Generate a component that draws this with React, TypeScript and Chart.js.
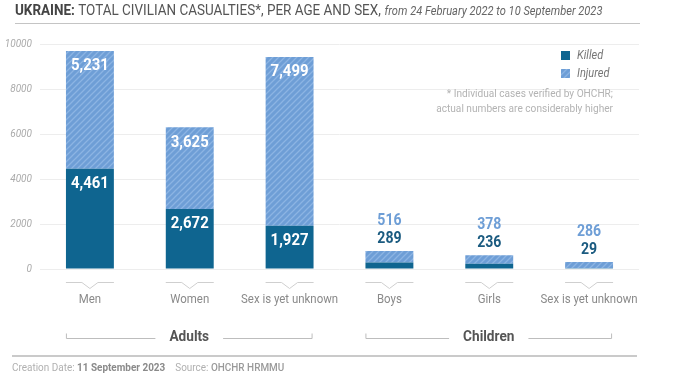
import React, { useEffect, useRef } from "react";
import { Chart, registerables } from "chart.js";

Chart.register(...registerables);

const categories = ["Men", "Women", "Sex is yet unknown", "Boys", "Girls", "Sex is yet unknown"];
const killed = [4461, 2672, 1927, 289, 236, 29];
const injured = [5231, 3625, 7499, 516, 378, 286];
const yTicks = [0, 2000, 4000, 6000, 8000, 10000];
const groupLabels = ["Adults", "Children"];
const groupStart = [0, 3];
const groupEnd = [2, 5];
const seriesNames = ["Killed", "Injured"];

const FF = "Roboto, 'Noto Sans', sans-serif";
const SX = 0.88;
const KILLED_COLOR = "#0f6590";
const INJ_BASE = "#6e9ed6";
const INJ_STRIPE = "#8cb4e3";

function makePattern(ctx: CanvasRenderingContext2D): CanvasPattern | string {
  const c = document.createElement("canvas");
  c.width = 6;
  c.height = 6;
  const p = c.getContext("2d");
  if (!p) return INJ_BASE;
  p.fillStyle = INJ_BASE;
  p.fillRect(0, 0, 6, 6);
  p.strokeStyle = INJ_STRIPE;
  p.lineWidth = 1.3;
  p.beginPath();
  p.moveTo(0, 6);
  p.lineTo(6, 0);
  p.moveTo(-1, 1);
  p.lineTo(1, -1);
  p.moveTo(5, 7);
  p.lineTo(7, 5);
  p.stroke();
  return ctx.createPattern(c, "repeat") || INJ_BASE;
}

function txt(
  ctx: CanvasRenderingContext2D,
  s: string,
  x: number,
  y: number,
  font: string,
  color: string,
  align: CanvasTextAlign = "left"
): number {
  ctx.save();
  ctx.font = font;
  ctx.fillStyle = color;
  ctx.textBaseline = "middle";
  ctx.textAlign = align;
  ctx.translate(x, y);
  ctx.scale(SX, 1);
  ctx.fillText(s, 0, 0);
  const w = ctx.measureText(s).width * SX;
  ctx.restore();
  return w;
}

function tw(ctx: CanvasRenderingContext2D, s: string, font: string): number {
  ctx.save();
  ctx.font = font;
  const w = ctx.measureText(s).width * SX;
  ctx.restore();
  return w;
}

const fmt = (v: number) => v.toLocaleString("en-US");

const decorPlugin = {
  id: "decor",
  afterDraw(chart: any) {
    const ctx: CanvasRenderingContext2D = chart.ctx;
    const xs = chart.scales.x;
    const pattern = chart.$pattern;

    // Title
    let x = 15;
    const ty = 11;
    x += txt(ctx, "UKRAINE:", x, ty, `bold 15.3px ${FF}`, "#444");
    x += txt(ctx, " TOTAL CIVILIAN CASUALTIES*, PER AGE AND SEX,", x, ty, `15.3px ${FF}`, "#555");
    txt(ctx, " from 24 February 2022 to 10 September 2023", x + 1, ty + 1, `italic 12.6px ${FF}`, "#666");

    ctx.save();
    ctx.strokeStyle = "#c4c4c4";
    ctx.lineWidth = 1.2;
    ctx.beginPath();
    ctx.moveTo(15, 23.5);
    ctx.lineTo(640, 23.5);
    ctx.stroke();
    ctx.restore();

    // Legend
    ctx.save();
    ctx.fillStyle = KILLED_COLOR;
    ctx.fillRect(561, 51, 9, 9);
    ctx.fillStyle = pattern;
    ctx.fillRect(561, 69, 9, 9);
    ctx.restore();
    txt(ctx, seriesNames[0], 577, 55.5, `italic 12.5px ${FF}`, "#777");
    txt(ctx, seriesNames[1], 577, 73.5, `italic 12.5px ${FF}`, "#777");

    // Note
    txt(ctx, "* Individual cases verified by OHCHR;", 613, 94, `11.5px ${FF}`, "#b3b3b3", "right");
    txt(ctx, "actual numbers are considerably higher", 613, 109, `11.5px ${FF}`, "#b3b3b3", "right");

    // Category notches and labels
    ctx.save();
    ctx.strokeStyle = "#cfcfcf";
    ctx.lineWidth = 1;
    categories.forEach((c, i) => {
      const cx = xs.getPixelForValue(i);
      ctx.beginPath();
      ctx.moveTo(cx - 24, 282.5);
      ctx.lineTo(cx - 8, 282.5);
      ctx.lineTo(cx, 288.5);
      ctx.lineTo(cx + 8, 282.5);
      ctx.lineTo(cx + 24, 282.5);
      ctx.stroke();
    });
    ctx.restore();
    categories.forEach((c, i) => {
      const cx = xs.getPixelForValue(i);
      txt(ctx, c, cx, 300, `13px ${FF}`, "#8a8a8a", "center");
    });

    // Group brackets
    groupLabels.forEach((g, gi) => {
      const x0 = xs.getPixelForValue(groupStart[gi]) - 24;
      const x1 = xs.getPixelForValue(groupEnd[gi]) + 23;
      const cx = (x0 + x1) / 2;
      const font = `bold 15.5px ${FF}`;
      const w = tw(ctx, g, font);
      const by = 338.5;
      ctx.save();
      ctx.strokeStyle = "#bdbdbd";
      ctx.lineWidth = 1;
      ctx.beginPath();
      ctx.moveTo(x0 + 0.5, by - 5);
      ctx.lineTo(x0 + 0.5, by);
      ctx.lineTo(cx - w / 2 - 14, by);
      ctx.moveTo(cx + w / 2 + 14, by);
      ctx.lineTo(x1 - 0.5, by);
      ctx.lineTo(x1 - 0.5, by - 5);
      ctx.stroke();
      ctx.restore();
      txt(ctx, g, cx, 337, font, "#555", "center");
    });

    // Bottom separator
    ctx.save();
    ctx.strokeStyle = "#b8b8b8";
    ctx.lineWidth = 1.5;
    ctx.beginPath();
    ctx.moveTo(12, 356);
    ctx.lineTo(637, 356);
    ctx.stroke();
    ctx.restore();

    // Footer
    let fx = 12;
    const fy = 368;
    const ff = `11.3px ${FF}`;
    fx += txt(ctx, "Creation Date: ", fx, fy, ff, "#b0b0b0");
    fx += txt(ctx, "11 September 2023", fx, fy, `bold 11.3px ${FF}`, "#8a8a8a");
    fx += 10;
    fx += txt(ctx, "Source: ", fx, fy, ff, "#b0b0b0");
    txt(ctx, "OHCHR HRMMU", fx, fy, `500 11.3px ${FF}`, "#9a9a9a");
  },
  afterDatasetsDraw(chart: any) {
    const ctx: CanvasRenderingContext2D = chart.ctx;
    const mk = chart.getDatasetMeta(0).data;
    const mi = chart.getDatasetMeta(1).data;
    categories.forEach((c, i) => {
      const kb = mk[i];
      const ib = mi[i];
      const cx = kb.x;
      const big = kb.base - ib.y > 60;
      if (big) {
        txt(ctx, fmt(injured[i]), cx, ib.y + 15, `bold 17px ${FF}`, "#ffffff", "center");
        txt(ctx, fmt(killed[i]), cx, kb.y + 15, `bold 17px ${FF}`, "#ffffff", "center");
      } else {
        txt(ctx, fmt(injured[i]), cx, ib.y - 30, `bold 16px ${FF}`, "#6e9ed6", "center");
        txt(ctx, fmt(killed[i]), cx, ib.y - 12, `bold 16px ${FF}`, "#1b5b80", "center");
      }
    });
  },
};

export default function App() {
  const ref = useRef<HTMLCanvasElement | null>(null);
  useEffect(() => {
    document.body.style.margin = "0";
    const canvas = ref.current;
    if (!canvas) return;
    const ctx = canvas.getContext("2d");
    if (!ctx) return;
    const pattern = makePattern(ctx);
    const chart: any = new Chart(canvas, {
      type: "bar",
      data: {
        labels: categories,
        datasets: [
          { label: seriesNames[0], data: killed, backgroundColor: KILLED_COLOR, barPercentage: 0.5, categoryPercentage: 0.96 },
          { label: seriesNames[1], data: injured, backgroundColor: pattern as any, barPercentage: 0.5, categoryPercentage: 0.96 },
        ],
      },
      options: {
        animation: false,
        responsive: false,
        devicePixelRatio: 1,
        layout: { padding: { top: 44, bottom: 117, left: 0, right: 51 } },
        plugins: { legend: { display: false }, tooltip: { enabled: false }, title: { display: false } },
        scales: {
          x: { stacked: true, display: false },
          y: {
            stacked: true,
            min: 0,
            max: 10000,
            afterFit: (s: any) => {
              s.width = 40;
            },
            afterBuildTicks: (s: any) => {
              s.ticks = yTicks.map((v) => ({ value: v }));
            },
            border: { display: false },
            grid: { color: "#ededed", drawTicks: false, lineWidth: 1 },
            ticks: {
              padding: 8,
              color: "#ababab",
              font: { family: FF, size: 10, style: "italic" },
              callback: (v: any) => String(v),
            },
          },
        },
      },
      plugins: [decorPlugin],
    });
    chart.$pattern = pattern;
    chart.draw();
    return () => chart.destroy();
  }, []);
  return <canvas ref={ref} width={690} height={386} style={{ display: "block", width: 690, height: 386 }} />;
}
